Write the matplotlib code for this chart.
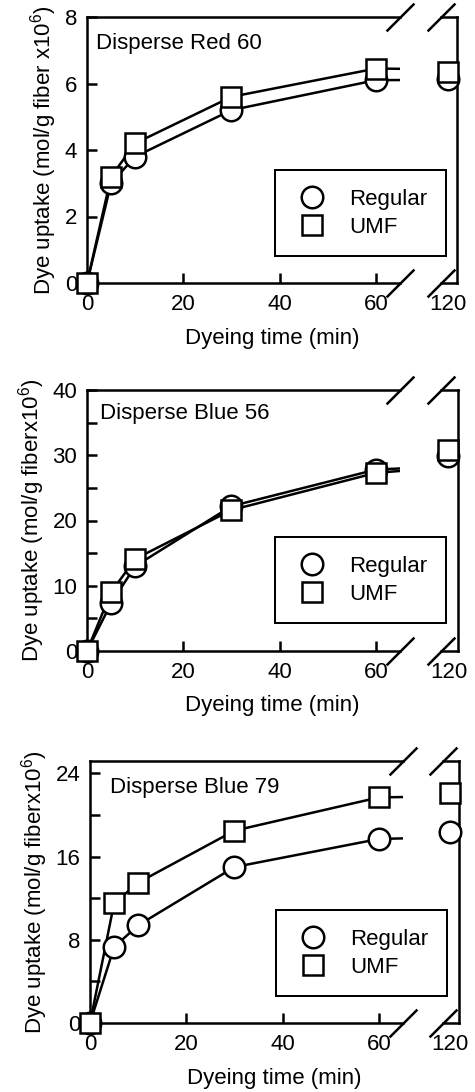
import numpy as np
import matplotlib
matplotlib.use('Agg')
import matplotlib.pyplot as plt

plt.rcParams['font.family'] = ['Liberation Sans', 'DejaVu Sans']
plt.rcParams['mathtext.default'] = 'regular'
plt.rcParams['font.size'] = 16

# dyeing times (min) and dye uptake (mol/g fiber x10^6)
time_min = np.array([0, 5, 10, 30, 60, 120])

red60_regular = [0, 3.0, 3.8, 5.2, 6.1, 6.15]
red60_umf = [0, 3.2, 4.2, 5.6, 6.45, 6.35]

blue56_regular = [0, 7.3, 13.0, 22.2, 27.8, 29.9]
blue56_umf = [0, 9.0, 14.1, 21.6, 27.3, 30.8]

blue79_regular = [0, 7.3, 9.4, 15.0, 17.7, 18.4]
blue79_umf = [0, 11.5, 13.5, 18.5, 21.7, 22.1]

W, H = 475, 1092
fig = plt.figure(figsize=(W / 100, H / 100), dpi=100)

LW = 1.8
circle = dict(marker='o', ms=15.5, mfc='white', mec='black', mew=LW, ls='none')
square = dict(marker='s', ms=14, mfc='white', mec='black', mew=LW, ls='none')


def fx(px):
    return px / W


def fy(px):
    return 1 - px / H


def panel(box, regular, umf, name, ylim, major, minor, ylabel, name_pos, legend_box):
    left, split, rstart, right, top, bot = box
    ax = fig.add_axes([fx(left), fy(bot), fx(split - left), fy(top) - fy(bot)])
    axr = fig.add_axes([fx(rstart), fy(bot), fx(right - rstart), fy(top) - fy(bot)], sharey=ax)
    axr.set_facecolor('none')

    ax.set_xlim(0, 65)
    axr.set_xlim(118.55, 121.85)
    ax.set_ylim(*ylim)

    near = time_min <= 65
    far = ~near
    for a, mask in ((ax, near), (axr, far)):
        for vals, style, lab in ((regular, circle, 'Regular'), (umf, square, 'UMF')):
            vals = np.asarray(vals)
            if a is ax:
                a.plot(time_min, vals, color='black', lw=LW, zorder=2)
            a.plot(time_min[mask], vals[mask], clip_on=False, zorder=3,
                   label=lab if a is ax else None, **style)

    for a in (ax, axr):
        for s in a.spines.values():
            s.set_linewidth(LW)
    ax.spines['right'].set_visible(False)
    axr.spines['left'].set_visible(False)

    ax.set_xticks([0, 20, 40, 60])
    ax.set_yticks(major)
    ax.set_yticks(minor, minor=True)
    ax.tick_params(axis='both', which='both', direction='in', length=7, width=LW,
                   top=False, right=False)
    ax.tick_params(axis='x', pad=8)
    ax.tick_params(axis='y', pad=7)
    axr.set_xticks([120])
    axr.tick_params(axis='x', length=0, pad=8)
    axr.tick_params(axis='y', which='both', left=False, labelleft=False,
                    right=False)

    # break marks on both sides of the gap
    slash = dict(marker=[(-1, -1), (1, 1)], markersize=20, ls='none',
                 color='black', mec='black', mew=LW, clip_on=False)
    ax.plot([1, 1], [0, 1], transform=ax.transAxes, **slash)
    axr.plot([0, 0], [0, 1], transform=axr.transAxes, **slash)

    ax.text(name_pos[0], name_pos[1], name, transform=ax.transAxes,
            ha='left', va='center')

    ax.set_ylabel(ylabel, labelpad=4)
    ax.set_xlabel('Dyeing time (min)', labelpad=4)
    ax.xaxis.set_label_coords(((left + right) / 2 - left) / (split - left), -0.17)

    lx, ly = legend_box
    leg = ax.legend(loc='upper left', bbox_to_anchor=(fx(lx), fy(ly)),
                    bbox_transform=fig.transFigure, frameon=True, fancybox=False,
                    edgecolor='black', framealpha=1, borderpad=0.85,
                    handlelength=1.6, handletextpad=0.9, labelspacing=0.3,
                    borderaxespad=0, fontsize=16)
    leg.set_zorder(5)
    leg.get_frame().set_linewidth(LW * 0.8)


panel((87, 400, 441, 457, 17, 283), red60_regular, red60_umf, 'Disperse Red 60',
      (0, 8), [0, 2, 4, 6, 8], [],
      'Dye uptake (mol/g fiber x10$^6$)', (0.03, 0.90), (275, 170))

panel((87, 400, 441, 458, 390, 651), blue56_regular, blue56_umf, 'Disperse Blue 56',
      (0, 40), [0, 10, 20, 30, 40], [5, 15, 25, 35],
      'Dye uptake (mol/g fiberx10$^6$)', (0.04, 0.91), (275, 537))

panel((90, 403, 443, 459, 761, 1023), blue79_regular, blue79_umf, 'Disperse Blue 79',
      (0, 25.2), [0, 8, 16, 24], [4, 12, 20],
      'Dye uptake (mol/g fiberx10$^6$)', (0.065, 0.90), (276, 910))

fig.savefig('out.png', dpi=100)
